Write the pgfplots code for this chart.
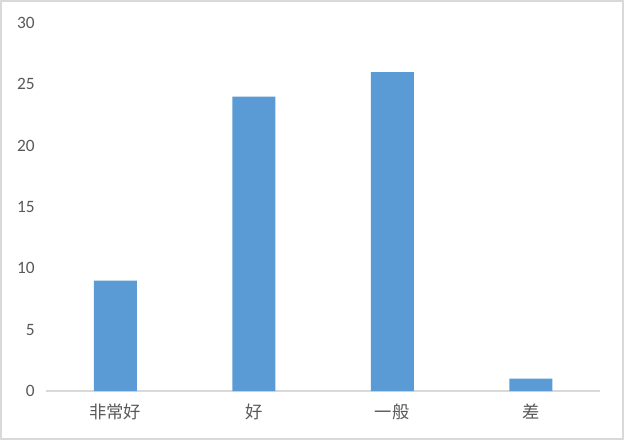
\documentclass[border=0pt]{standalone}
\usepackage{pgfplots}
\pgfplotsset{compat=1.18}
\usepackage{fontspec}
\setmainfont{Carlito}
\newfontfamily\cjk{Noto Sans CJK SC}
\definecolor{barblue}{HTML}{5B9BD5}
\definecolor{txtgray}{HTML}{595959}
\definecolor{linegray}{HTML}{D9D9D9}
\begin{document}
\begin{tikzpicture}
  % chart area frame, 624x440 px at 0.75pt per px
  \draw[linegray, line width=1.5pt] (0.75pt,0.75pt) rectangle (467.25pt,329.25pt);
  \begin{axis}[
    at={(34.5pt,36.75pt)}, anchor=south west,
    scale only axis,
    width=415.5pt, height=276pt,
    ymin=0, ymax=30, ytick distance=5,
    xmin=-0.5, xmax=3.5,
    xtick=data,
    xticklabels={非常好,好,一般,差},
    axis x line=bottom, axis y line=left,
    x axis line style={draw=linegray, line width=1pt, -},
    y axis line style={draw=none},
    major tick length=0pt,
    tick label style={text=txtgray},
    yticklabel style={font=\fontsize{13}{13}\selectfont, xshift=-5pt},
    xticklabel style={font=\cjk\fontsize{13}{13}\selectfont, yshift=-6pt},
    /pgf/number format/assume math mode=true,
    clip=false,
  ]
    \addplot[ybar, bar width=32.25pt, fill=barblue, draw=none]
      coordinates {(0,9) (1,24) (2,26) (3,1)};
  \end{axis}
\end{tikzpicture}
\end{document}
